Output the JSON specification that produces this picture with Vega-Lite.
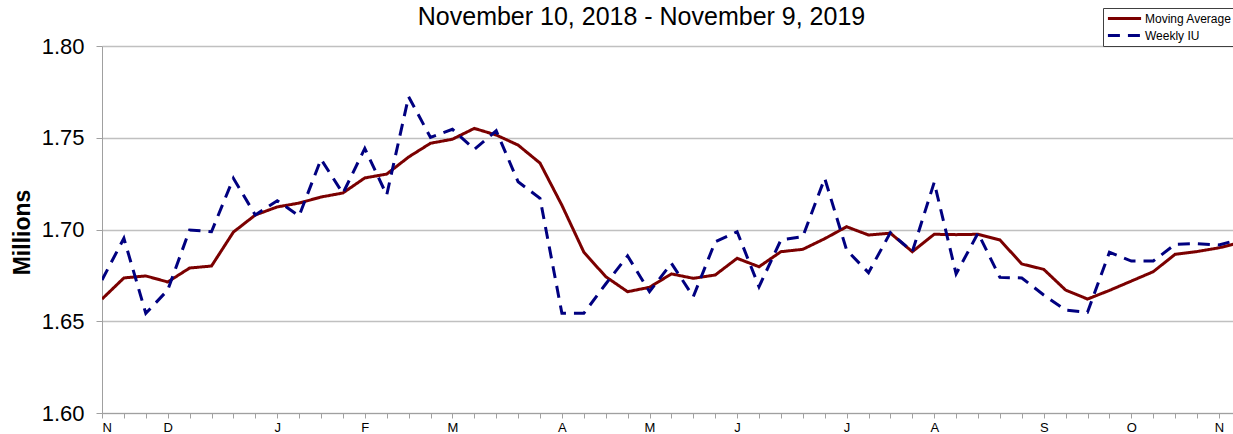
{
  "$schema": "https://vega.github.io/schema/vega-lite/v6.json",
  "autosize": {"type": "none"},
  "width": 1131,
  "height": 367,
  "padding": {"left": 102, "top": 46, "right": 0, "bottom": 21},
  "background": "white",
  "config": {"view": {"stroke": null}, "font": "Liberation Sans"},
  "title": {"text": "November 10, 2018 - November 9, 2019", "fontSize": 25, "fontWeight": "normal", "color": "black", "anchor": "middle", "dx": -26, "offset": 18, "dy": 40, "font": "Liberation Sans"},
  "data": {"values": [
    {"date": "2018-11-10", "Moving Average": 1.6621, "Weekly IU": 1.6725},
    {"date": "2018-11-17", "Moving Average": 1.6736, "Weekly IU": 1.6952},
    {"date": "2018-11-24", "Moving Average": 1.6747, "Weekly IU": 1.6543},
    {"date": "2018-12-01", "Moving Average": 1.6714, "Weekly IU": 1.667},
    {"date": "2018-12-08", "Moving Average": 1.679, "Weekly IU": 1.6997},
    {"date": "2018-12-15", "Moving Average": 1.6801, "Weekly IU": 1.6988},
    {"date": "2018-12-22", "Moving Average": 1.6986, "Weekly IU": 1.7279},
    {"date": "2018-12-29", "Moving Average": 1.7079, "Weekly IU": 1.7079},
    {"date": "2019-01-05", "Moving Average": 1.7123, "Weekly IU": 1.7157},
    {"date": "2019-01-12", "Moving Average": 1.7144, "Weekly IU": 1.7074},
    {"date": "2019-01-19", "Moving Average": 1.7177, "Weekly IU": 1.7383},
    {"date": "2019-01-26", "Moving Average": 1.7199, "Weekly IU": 1.7197},
    {"date": "2019-02-02", "Moving Average": 1.7281, "Weekly IU": 1.7442},
    {"date": "2019-02-09", "Moving Average": 1.7302, "Weekly IU": 1.7188},
    {"date": "2019-02-16", "Moving Average": 1.7395, "Weekly IU": 1.7724},
    {"date": "2019-02-23", "Moving Average": 1.747, "Weekly IU": 1.7502},
    {"date": "2019-03-02", "Moving Average": 1.7492, "Weekly IU": 1.7546},
    {"date": "2019-03-09", "Moving Average": 1.7551, "Weekly IU": 1.7437},
    {"date": "2019-03-16", "Moving Average": 1.7515, "Weekly IU": 1.7538},
    {"date": "2019-03-23", "Moving Average": 1.746, "Weekly IU": 1.726},
    {"date": "2019-03-30", "Moving Average": 1.7362, "Weekly IU": 1.717},
    {"date": "2019-04-06", "Moving Average": 1.7132, "Weekly IU": 1.6543},
    {"date": "2019-04-13", "Moving Average": 1.6877, "Weekly IU": 1.6543},
    {"date": "2019-04-20", "Moving Average": 1.6743, "Weekly IU": 1.6703},
    {"date": "2019-04-27", "Moving Average": 1.6661, "Weekly IU": 1.6856},
    {"date": "2019-05-04", "Moving Average": 1.6685, "Weekly IU": 1.6661},
    {"date": "2019-05-11", "Moving Average": 1.6758, "Weekly IU": 1.6816},
    {"date": "2019-05-18", "Moving Average": 1.6734, "Weekly IU": 1.6634},
    {"date": "2019-05-25", "Moving Average": 1.6752, "Weekly IU": 1.6933},
    {"date": "2019-06-01", "Moving Average": 1.6843, "Weekly IU": 1.6988},
    {"date": "2019-06-08", "Moving Average": 1.6797, "Weekly IU": 1.6688},
    {"date": "2019-06-15", "Moving Average": 1.6879, "Weekly IU": 1.6943},
    {"date": "2019-06-22", "Moving Average": 1.6892, "Weekly IU": 1.6961},
    {"date": "2019-06-29", "Moving Average": 1.695, "Weekly IU": 1.7279},
    {"date": "2019-07-06", "Moving Average": 1.7015, "Weekly IU": 1.6888},
    {"date": "2019-07-13", "Moving Average": 1.697, "Weekly IU": 1.6765},
    {"date": "2019-07-20", "Moving Average": 1.698, "Weekly IU": 1.6983},
    {"date": "2019-07-27", "Moving Average": 1.6879, "Weekly IU": 1.6879},
    {"date": "2019-08-03", "Moving Average": 1.6974, "Weekly IU": 1.7257},
    {"date": "2019-08-10", "Moving Average": 1.6972, "Weekly IU": 1.6758},
    {"date": "2019-08-17", "Moving Average": 1.6974, "Weekly IU": 1.698},
    {"date": "2019-08-24", "Moving Average": 1.6943, "Weekly IU": 1.6739},
    {"date": "2019-08-31", "Moving Average": 1.6812, "Weekly IU": 1.6736},
    {"date": "2019-09-07", "Moving Average": 1.6783, "Weekly IU": 1.6643},
    {"date": "2019-09-14", "Moving Average": 1.667, "Weekly IU": 1.6561},
    {"date": "2019-09-21", "Moving Average": 1.6621, "Weekly IU": 1.6549},
    {"date": "2019-09-28", "Moving Average": 1.6668, "Weekly IU": 1.6876},
    {"date": "2019-10-05", "Moving Average": 1.6719, "Weekly IU": 1.6828},
    {"date": "2019-10-12", "Moving Average": 1.677, "Weekly IU": 1.6828},
    {"date": "2019-10-19", "Moving Average": 1.6865, "Weekly IU": 1.6919},
    {"date": "2019-10-26", "Moving Average": 1.688, "Weekly IU": 1.6923},
    {"date": "2019-11-02", "Moving Average": 1.69, "Weekly IU": 1.6916},
    {"date": "2019-11-09", "Moving Average": 1.693, "Weekly IU": 1.6948}
  ]},
  "transform": [{"fold": ["Moving Average", "Weekly IU"], "as": ["series", "value"]}],
  "mark": {"type": "line", "clip": true, "strokeWidth": 3},
  "encoding": {
    "x": {
      "field": "date", "type": "temporal",
      "scale": {"type": "utc", "nice": false, "domain": [{"year": 2018, "month": 11, "date": 10, "utc": true}, {"year": 2019, "month": 11, "date": 6, "hours": 12, "utc": true}]},
      "axis": {
        "values": [
          {"year": 2018, "month": 11, "date": 10, "utc": true},
          {"year": 2018, "month": 11, "date": 17, "utc": true},
          {"year": 2018, "month": 11, "date": 24, "utc": true},
          {"year": 2018, "month": 12, "date": 1, "utc": true},
          {"year": 2018, "month": 12, "date": 8, "utc": true},
          {"year": 2018, "month": 12, "date": 15, "utc": true},
          {"year": 2018, "month": 12, "date": 22, "utc": true},
          {"year": 2018, "month": 12, "date": 29, "utc": true},
          {"year": 2019, "month": 1, "date": 5, "utc": true},
          {"year": 2019, "month": 1, "date": 12, "utc": true},
          {"year": 2019, "month": 1, "date": 19, "utc": true},
          {"year": 2019, "month": 1, "date": 26, "utc": true},
          {"year": 2019, "month": 2, "date": 2, "utc": true},
          {"year": 2019, "month": 2, "date": 9, "utc": true},
          {"year": 2019, "month": 2, "date": 16, "utc": true},
          {"year": 2019, "month": 2, "date": 23, "utc": true},
          {"year": 2019, "month": 3, "date": 2, "utc": true},
          {"year": 2019, "month": 3, "date": 9, "utc": true},
          {"year": 2019, "month": 3, "date": 16, "utc": true},
          {"year": 2019, "month": 3, "date": 23, "utc": true},
          {"year": 2019, "month": 3, "date": 30, "utc": true},
          {"year": 2019, "month": 4, "date": 6, "utc": true},
          {"year": 2019, "month": 4, "date": 13, "utc": true},
          {"year": 2019, "month": 4, "date": 20, "utc": true},
          {"year": 2019, "month": 4, "date": 27, "utc": true},
          {"year": 2019, "month": 5, "date": 4, "utc": true},
          {"year": 2019, "month": 5, "date": 11, "utc": true},
          {"year": 2019, "month": 5, "date": 18, "utc": true},
          {"year": 2019, "month": 5, "date": 25, "utc": true},
          {"year": 2019, "month": 6, "date": 1, "utc": true},
          {"year": 2019, "month": 6, "date": 8, "utc": true},
          {"year": 2019, "month": 6, "date": 15, "utc": true},
          {"year": 2019, "month": 6, "date": 22, "utc": true},
          {"year": 2019, "month": 6, "date": 29, "utc": true},
          {"year": 2019, "month": 7, "date": 6, "utc": true},
          {"year": 2019, "month": 7, "date": 13, "utc": true},
          {"year": 2019, "month": 7, "date": 20, "utc": true},
          {"year": 2019, "month": 7, "date": 27, "utc": true},
          {"year": 2019, "month": 8, "date": 3, "utc": true},
          {"year": 2019, "month": 8, "date": 10, "utc": true},
          {"year": 2019, "month": 8, "date": 17, "utc": true},
          {"year": 2019, "month": 8, "date": 24, "utc": true},
          {"year": 2019, "month": 8, "date": 31, "utc": true},
          {"year": 2019, "month": 9, "date": 7, "utc": true},
          {"year": 2019, "month": 9, "date": 14, "utc": true},
          {"year": 2019, "month": 9, "date": 21, "utc": true},
          {"year": 2019, "month": 9, "date": 28, "utc": true},
          {"year": 2019, "month": 10, "date": 5, "utc": true},
          {"year": 2019, "month": 10, "date": 12, "utc": true},
          {"year": 2019, "month": 10, "date": 19, "utc": true},
          {"year": 2019, "month": 10, "date": 26, "utc": true},
          {"year": 2019, "month": 11, "date": 2, "utc": true}
        ],
        "labelExpr": "(utcdate(datum.value) <= 7 || datum.index == 0) ? slice(utcFormat(datum.value, '%b'), 0, 1) : ''",
        "title": null, "grid": false,
        "domainColor": "#a0a0a0", "tickColor": "#a0a0a0", "tickSize": 5,
        "labelFontSize": 13, "labelColor": "black", "labelPadding": 3, "labelOverlap": false, "labelFont": "Liberation Sans"
      }
    },
    "y": {
      "field": "value", "type": "quantitative",
      "scale": {"domain": [1.6, 1.8], "nice": false, "zero": false},
      "axis": {
        "values": [1.6, 1.65, 1.7, 1.75, 1.8], "format": ".2f",
        "title": "Millions", "titleFontSize": 23, "titleFontWeight": "bold", "titleColor": "black", "titleFont": "Liberation Sans",
        "titleX": -80, "titleY": 186, "titleAngle": -90, "titleBaseline": "middle", "titleAlign": "center",
        "labelFontSize": 22, "labelColor": "black", "labelPadding": 12, "labelFont": "Liberation Sans",
        "tickSize": 6, "tickColor": "#a0a0a0", "domainColor": "#a0a0a0",
        "grid": true, "gridColor": "#c0c0c0", "gridWidth": 1.5
      }
    },
    "color": {
      "field": "series", "type": "nominal",
      "scale": {"domain": ["Moving Average", "Weekly IU"], "range": ["#7b0000", "#000080"]},
      "legend": {"title": null, "orient": "none", "legendX": 1001, "legendY": -38, "symbolType": "stroke", "symbolSize": 1100, "symbolStrokeWidth": 3, "clipHeight": 15, "labelFontSize": 12, "labelFont": "Liberation Sans", "labelColor": "black", "strokeColor": "#404040", "fillColor": "white", "padding": 3, "rowPadding": 2, "labelOffset": 2}
    },
    "strokeDash": {
      "field": "series", "type": "nominal",
      "scale": {"domain": ["Moving Average", "Weekly IU"], "range": [[1, 0], [12, 8]]},
      "legend": {"title": null, "orient": "none", "legendX": 1001, "legendY": -38, "symbolType": "stroke", "symbolSize": 1100, "symbolStrokeWidth": 3, "clipHeight": 15, "labelFontSize": 12, "labelFont": "Liberation Sans", "labelColor": "black", "strokeColor": "#404040", "fillColor": "white", "padding": 3, "rowPadding": 2, "labelOffset": 2}
    }
  }
}
